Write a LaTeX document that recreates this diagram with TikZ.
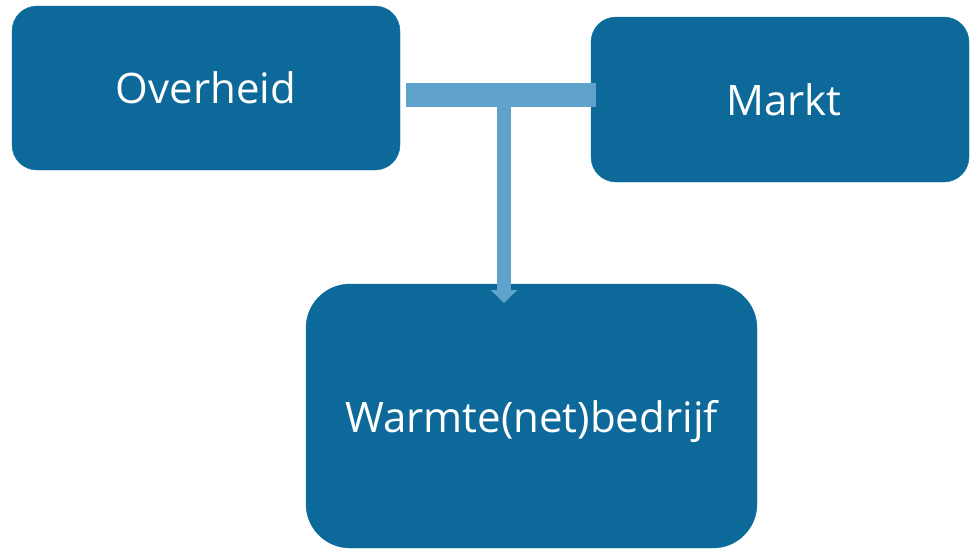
\documentclass[tikz,border=0pt]{standalone}
\usepackage{fontspec}
\setmainfont{Open Sans}
\usetikzlibrary{arrows.meta}
\definecolor{blokkleur}{RGB}{12,105,153}
\definecolor{balkkleur}{RGB}{95,162,203}

\begin{document}
\begin{tikzpicture}[x=1pt, y=-1pt,
 blok/.style={fill=blokkleur, draw=blokkleur!90!cyan, text=white, inner sep=0pt,
   font=\fontsize{42}{48}\selectfont, rounded corners=25pt},
 balk/.style={draw=balkkleur, line width=24pt},
 pijl/.style={draw=balkkleur, line width=14pt, -{Triangle[width=26pt, length=13pt]}}]
 \useasboundingbox (0,0) rectangle (970,550);
 \draw (206, 88) node[blok, minimum width=388pt, minimum height=164pt] (Overheid) {Overheid};
 \draw (780, 99.5) node[blok, minimum width=378pt, minimum height=165pt] (Markt) {\hspace*{8pt}Markt};
 \draw (531.5, 416) node[blok, rounded corners=44pt, text depth=0pt, minimum width=451pt, minimum height=264pt] (Warmte) {Warmte(net)bedrijf};
 \coordinate (links) at (406, 95);
 \coordinate (rechts) at (596, 95);
 \coordinate (midden) at (504, 95);
 \coordinate (punt) at (504, 303);

 \draw[balk] (links) -- (rechts);
 \draw[pijl] (midden) -- (punt);
\end{tikzpicture}
\end{document}
